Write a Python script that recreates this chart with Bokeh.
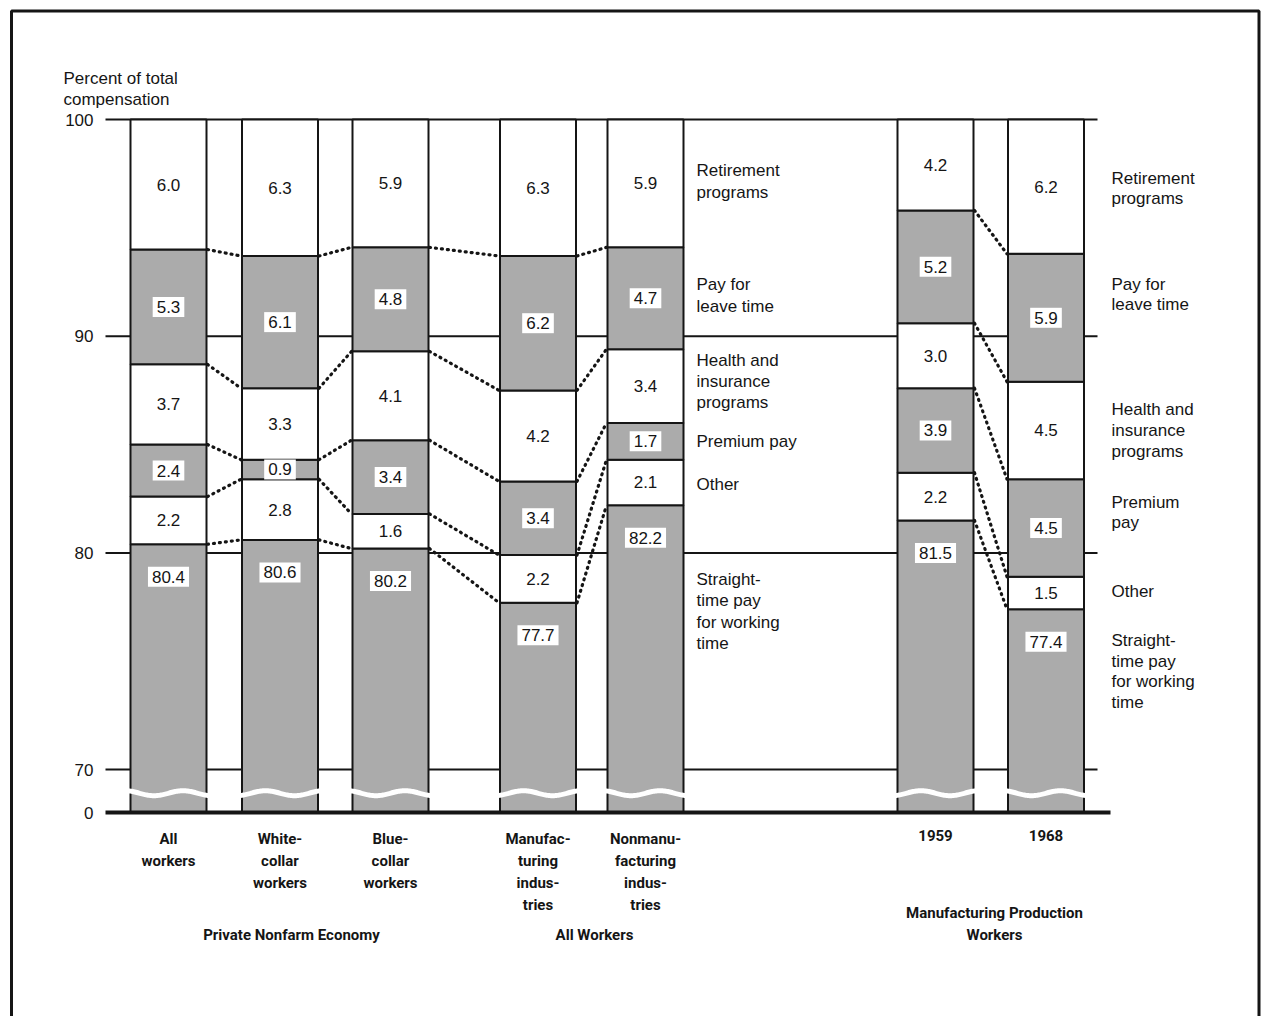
import numpy as np
from bokeh.plotting import figure
from bokeh.models import Range1d, ColumnDataSource
from bokeh.core.properties import value
from bokeh.embed import file_html
from bokeh.resources import INLINE

# ---------------- data ----------------
categories = ["All\nworkers", "White-\ncollar\nworkers", "Blue-\ncollar\nworkers",
              "Manufac-\nturing\nindus-\ntries", "Nonmanu-\nfacturing\nindus-\ntries",
              "1959", "1968"]
groups = ["Private Nonfarm Economy", "All Workers", "Manufacturing Production\nWorkers"]

straight_time = [80.4, 80.6, 80.2, 77.7, 82.2, 81.5, 77.4]
other = [2.2, 2.8, 1.6, 2.2, 2.1, 2.2, 1.5]
premium_pay = [2.4, 0.9, 3.4, 3.4, 1.7, 3.9, 4.5]
health_insurance = [3.7, 3.3, 4.1, 4.2, 3.4, 3.0, 4.5]
leave_pay = [5.3, 6.1, 4.8, 6.2, 4.7, 5.2, 5.9]
retirement = [6.0, 6.3, 5.9, 6.3, 5.9, 4.2, 6.2]

component_labels_mid = ["Straight-\ntime pay\nfor working\ntime", "Other", "Premium pay",
                        "Health and\ninsurance\nprograms", "Pay for\nleave time", "Retirement\nprograms"]
component_labels_right = ["Straight-\ntime pay\nfor working\ntime", "Other", "Premium\npay",
                          "Health and\ninsurance\nprograms", "Pay for\nleave time", "Retirement\nprograms"]

y_ticks = [0, 70, 80, 90, 100]
y_tick_labels = ["0", "70", "80", "90", "100"]
y_title = "Percent of total\ncompensation"

# ---------------- layout / style ----------------
SCALE = 21.67          # px per percentage point (reference)
BREAK = 68.02          # display position of 0 (broken axis)
def py(px):
    return 100 - (px - 119) / SCALE
def disp(v):
    v = np.asarray(v, dtype=float)
    return np.where(v >= 70, v, BREAK + v / 70.0 * (70 - BREAK))

bar_x = [168, 279.5, 390, 537.5, 645, 935, 1045.5]
BAR_W = 76
GRAY = "#ababab"
FONT = "Liberation Sans"
CAT_FONT = "Roboto"
INK = "#151515"

segments = [straight_time, other, premium_pay, health_insurance, leave_pay, retirement]
fills = [GRAY, "white", GRAY, "white", GRAY, "white"]

p = figure(width=1262, height=1016, output_backend="svg", toolbar_location=None,
           x_axis_type=None, y_axis_type=None,
           x_range=Range1d(2, 1262), y_range=Range1d(py(1016), py(1)),
           min_border=0, min_border_left=2, min_border_top=1,
           background_fill_color="white", border_fill_color="white",
           outline_line_color=None)

# gridlines
grid_vals = [t for t in y_ticks if t >= 70]
p.segment(x0=[105] * len(grid_vals), x1=[1097] * len(grid_vals),
          y0=disp(grid_vals), y1=disp(grid_vals), line_color=INK, line_width=2)

# stacked bars
cum = np.zeros(len(bar_x))
tops = []
for seg, col in zip(segments, fills):
    bottom = cum.copy()
    cum = cum + np.array(seg)
    tops.append(cum.copy())
    src = ColumnDataSource(dict(x=bar_x, bottom=disp(bottom), top=disp(cum)))
    p.vbar(x="x", width=BAR_W, bottom="bottom", top="top", source=src,
           fill_color=col, line_color=INK, line_width=2)

# wavy break lines
wave_y = BREAK + 0.45 * (70 - BREAK)
amp = 2.5 / SCALE
xs_w, ys_w = [], []
for i, c in enumerate(bar_x):
    xx = np.linspace(c - BAR_W / 2 - 3, c + BAR_W / 2 + 3, 80)
    ph = 0.0 if i % 2 == 0 else np.pi
    xs_w.append(list(xx))
    ys_w.append(list(wave_y + amp * np.sin(2 * np.pi * (xx - c) / 58.0 + ph)))
p.multi_line(xs=xs_w, ys=ys_w, line_color="white", line_width=5)

# baseline
p.segment(x0=[105], x1=[1110], y0=[BREAK], y1=[BREAK], line_color=INK, line_width=4)

# dotted connectors between adjacent bars (not across the gap to 1959)
pairs = [(0, 1), (1, 2), (2, 3), (3, 4), (5, 6)]
cx, cy = [], []
for a, b in pairs:
    for k in range(5):
        cx.append([bar_x[a] + BAR_W / 2 + 1, bar_x[b] - BAR_W / 2 - 1])
        cy.append(list(disp([tops[k][a], tops[k][b]])))
p.multi_line(xs=cx, ys=cy, line_color=INK, line_width=3.2, line_dash="1 5", line_cap="round")

# value labels
for k, (seg, col) in enumerate(zip(segments, fills)):
    seg = np.array(seg)
    top = tops[k]
    if k == 0:
        ly = top - 1.5
    else:
        ly = top - seg / 2
    src = ColumnDataSource(dict(x=bar_x, y=disp(ly), t=[f"{v:.1f}" for v in seg]))
    kw = {}
    if col != "white":
        kw = dict(background_fill_color="white", padding=4)
    p.text(x="x", y="y", text="t", source=src, text_align="center", text_baseline="middle",
           text_font=value(FONT), text_font_size="17px", text_color=INK, **kw)

# component labels (mid and right)
mid_y_px = [611, 484, 441, 381, 295, 181]
right_y_px = [671, 591, 512, 430, 294, 188]
p.text(x=[696] * 6, y=[py(v) for v in mid_y_px], text=component_labels_mid,
       text_align="left", text_baseline="middle", text_font=value(FONT),
       text_font_size="17px", text_line_height=1.11, text_color=INK)
p.text(x=[1111] * 6, y=[py(v) for v in right_y_px], text=component_labels_right,
       text_align="left", text_baseline="middle", text_font=value(FONT),
       text_font_size="17px", text_line_height=1.1, text_color=INK)

# y tick labels
p.text(x=[93] * len(y_ticks), y=list(disp(y_ticks)), text=y_tick_labels,
       text_align="right", text_baseline="middle", text_font=value(FONT),
       text_font_size="17px", text_color=INK)
# y title
p.text(x=[63], y=[py(68)], text=[y_title], text_align="left", text_baseline="top",
       text_font=value(FONT), text_font_size="17px", text_line_height=1.13, text_color=INK)

# category labels
p.text(x=bar_x, y=[py(829)] * len(bar_x), text=categories, text_align="center",
       text_baseline="top", text_font=value(CAT_FONT), text_font_style="bold",
       text_font_size="15px", text_line_height=1.23, text_color=INK)
# group labels
p.text(x=[291, 594, 994], y=[py(925), py(925), py(903)], text=groups, text_align="center",
       text_baseline="top", text_font=value(CAT_FONT), text_font_style="bold",
       text_font_size="15px", text_line_height=1.23, text_color=INK)

# frame (open at bottom as in the reference)
p.line(x=[11, 11, 1258.5, 1258.5], y=[py(1016), py(10.5), py(10.5), py(1016)],
       line_color=INK, line_width=3)

open("out.html", "w").write(file_html(p, INLINE))
